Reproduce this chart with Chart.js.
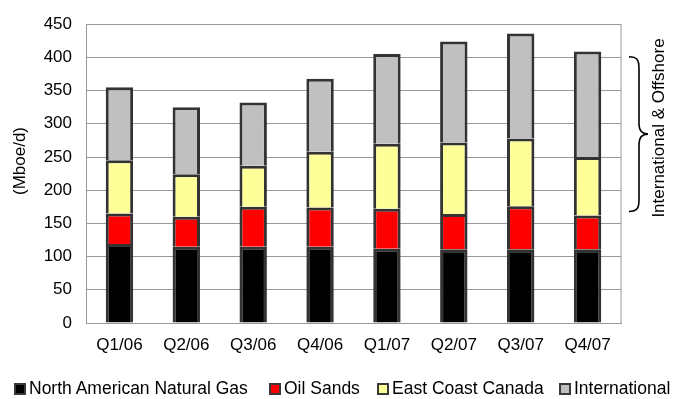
<!DOCTYPE html>
<html>
<head>
<meta charset="utf-8">
<script src="https://cdn.jsdelivr.net/npm/chart.js@4.4.1/dist/chart.umd.min.js"></script>
<style>
  html, body { margin: 0; padding: 0; background: #fff; }
  #wrap { position: relative; width: 675px; height: 399px; }
  #c { position: absolute; left: 0; top: 0; }
  #legend {
    position: absolute; left: 0; top: 378px; width: 675px; height: 20px;
    font-family: "Liberation Sans", Arial, sans-serif; font-size: 17.5px; color: #000;
    white-space: nowrap;
  }
  #legend .sw { position: absolute; top: 5px; width: 8px; height: 8px; border: 2px solid #3a3a3a; }
  #legend .tx { position: absolute; top: 0; line-height: 20px; }
</style>
</head>
<body>
<div id="wrap">
  <canvas id="c" width="675" height="399"></canvas>
  <div id="legend"></div>
</div>
<script>
// Quarterly production by segment, Mboe/d
const quarters = ['Q1/06', 'Q2/06', 'Q3/06', 'Q4/06', 'Q1/07', 'Q2/07', 'Q3/07', 'Q4/07'];
const naturalGas    = [119, 115, 115, 115, 112, 111, 111, 111];
const oilSands      = [46, 45, 60, 59, 60, 53, 65, 51];
const eastCoast     = [80, 64, 62, 84, 98, 108, 102, 88];
const international = [110, 101, 95, 110, 135, 152, 158, 159];
const yTicks = [0, 50, 100, 150, 200, 250, 300, 350, 400, 450];

const seriesNames  = ['North American Natural Gas', 'Oil Sands', 'East Coast Canada', 'International'];
const seriesColors = ['#000000', '#ff0000', '#ffff99', '#c0c0c0'];
const seriesData   = [naturalGas, oilSands, eastCoast, international];

const FONT = '"Liberation Sans", Arial, sans-serif';
const EDGE = '#333333';
const GRID = '#999999';

// Frame, axis title, brace and bracket label
const decor = {
  id: 'decor',
  beforeDatasetsDraw(chart) {
    const { ctx, chartArea: a } = chart;
    ctx.save();
    ctx.strokeStyle = GRID;
    ctx.lineWidth = 1;
    ctx.strokeRect(Math.round(a.left) + 0.5, Math.round(a.top) + 0.5,
                   Math.round(a.right - a.left) - 0.5, Math.round(a.bottom - a.top));
    ctx.restore();
  },
  afterDraw(chart) {
    const { ctx } = chart;
    const y = chart.scales.y;
    ctx.save();
    ctx.fillStyle = '#000';
    ctx.font = '17px ' + FONT;
    ctx.textAlign = 'center';
    ctx.textBaseline = 'middle';

    ctx.save();
    ctx.translate(20, 161);
    ctx.rotate(-Math.PI / 2);
    ctx.fillText('(Mboe/d)', 0, 0);
    ctx.restore();

    ctx.save();
    ctx.translate(659, 128);
    ctx.rotate(-Math.PI / 2);
    ctx.fillText('International & Offshore', 0, 0);
    ctx.restore();

    // curly brace
    const top = y.getPixelForValue(401);
    const bot = y.getPixelForValue(168);
    const mid = (top + bot) / 2;
    const x0 = 629, xs = 639, xt = 648;
    ctx.strokeStyle = '#000';
    ctx.lineWidth = 1.6;
    ctx.beginPath();
    ctx.moveTo(x0, top);
    ctx.bezierCurveTo(xs - 2, top, xs, top + 3, xs, top + 12);
    ctx.lineTo(xs, mid - 10);
    ctx.bezierCurveTo(xs, mid - 3, xs + 3, mid, xt, mid);
    ctx.bezierCurveTo(xs + 3, mid, xs, mid + 3, xs, mid + 10);
    ctx.lineTo(xs, bot - 12);
    ctx.bezierCurveTo(xs, bot - 3, xs - 2, bot, x0, bot);
    ctx.stroke();
    ctx.restore();
  }
};

new Chart(document.getElementById('c'), {
  type: 'bar',
  data: {
    labels: quarters,
    datasets: seriesNames.map((name, i) => ({
      label: name,
      data: seriesData[i],
      backgroundColor: seriesColors[i],
      borderColor: EDGE,
      borderWidth: 3,
      borderSkipped: 'start',
      inflateAmount: 0,
      barPercentage: 0.41,
      categoryPercentage: 1
    }))
  },
  options: {
    responsive: false,
    animation: false,
    devicePixelRatio: 1,
    layout: { padding: { left: 0, right: 54, top: 22, bottom: 36 } },
    plugins: { legend: { display: false }, tooltip: { enabled: false } },
    scales: {
      x: {
        stacked: true,
        grid: { display: false, drawTicks: false },
        border: { display: true, color: GRID, width: 1 },
        ticks: { color: '#000', font: { family: FONT, size: 17 }, padding: 12, maxRotation: 0 },
        afterFit(s) { s.height = 40; }
      },
      y: {
        stacked: true,
        min: 0, max: 450,
        afterBuildTicks(s) { s.ticks = yTicks.map(v => ({ value: v })); },
        grid: { color: GRID, lineWidth: 1, drawTicks: false },
        border: { display: true, color: GRID, width: 1 },
        ticks: { color: '#000', font: { family: FONT, size: 17 }, padding: 14 },
        afterFit(s) { s.width = 86; }
      }
    }
  },
  plugins: [decor]
});

// Legend row
const legend = document.getElementById('legend');
const swatchX = [14, 269, 377, 559];
seriesNames.forEach((name, i) => {
  const sw = document.createElement('span');
  sw.className = 'sw';
  sw.style.left = swatchX[i] + 'px';
  sw.style.background = seriesColors[i];
  const tx = document.createElement('span');
  tx.className = 'tx';
  tx.style.left = (swatchX[i] + 15) + 'px';
  tx.textContent = name;
  legend.appendChild(sw);
  legend.appendChild(tx);
});
</script>
</body>
</html>
